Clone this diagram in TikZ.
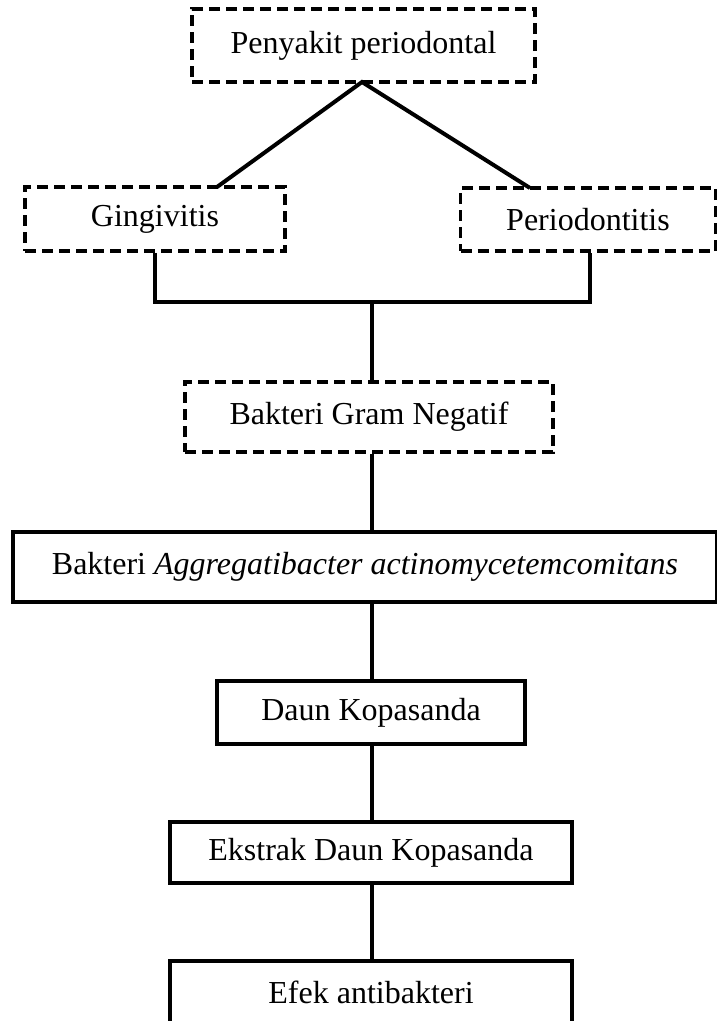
\documentclass[tikz,border=0pt]{standalone}
\usepackage{fontspec}
\setmainfont{Liberation Serif}
\begin{document}
\begin{tikzpicture}[x=1pt,y=-1pt,
  txt/.style={font=\fontsize{32}{36}\selectfont},
  box/.style={draw=black,line width=3.5pt,inner sep=0pt,txt},
  dbox/.style={box,dash pattern=on 11pt off 6pt},
  conn/.style={draw=black,line width=4pt}]
\useasboundingbox (0,0) rectangle (717,1021);
\clip (0,0) rectangle (717,1021);
\fill[white] (0,0) rectangle (717,1021);
\node[dbox,minimum width=343pt,minimum height=73pt] (top) at (363.5,45.5) {Penyakit periodontal};
\node[dbox,minimum width=260pt,minimum height=64pt] (ging) at (155,219) {Gingivitis};
\node[dbox,minimum width=255pt,minimum height=63pt] (perio) at (588,219.5) {Periodontitis};
\node[dbox,minimum width=368pt,minimum height=70pt] (gram) at (369,417) {Bakteri Gram Negatif};
\node[box,minimum width=704pt,minimum height=70pt] (agg) at (365,567) {Bakteri \textit{Aggregatibacter actinomycetemcomitans}};
\node[box,minimum width=308pt,minimum height=63pt] (daun) at (371,712.5) {Daun Kopasanda};
\node[box,minimum width=402pt,minimum height=61pt] (ekstrak) at (371,852.5) {Ekstrak Daun Kopasanda};
\node[box,minimum width=402pt,minimum height=76pt] (efek) at (371,999) {};
\node[txt,inner sep=0pt] (efekt) at (371,992) {Efek antibakteri};
\coordinate (tapex) at (362,82);
\coordinate (gtop) at (217,187);
\coordinate (ptop) at (530,188);
\coordinate (gl) at (155,302);
\coordinate (pr) at (590,302);
\coordinate (mid) at (372,302);
\draw[conn] (gtop) -- (tapex) -- (ptop);
\draw[conn] (ging.south -| gl) -- (gl) -- (pr) -- (perio.south -| pr);
\draw[conn] (mid) -- (gram.north -| mid);
\draw[conn] (gram.south -| mid) -- (agg.north -| mid);
\draw[conn] (agg.south -| mid) -- (daun.north -| mid);
\draw[conn] (daun.south -| mid) -- (ekstrak.north -| mid);
\draw[conn] (ekstrak.south -| mid) -- (efek.north -| mid);
\end{tikzpicture}
\end{document}
